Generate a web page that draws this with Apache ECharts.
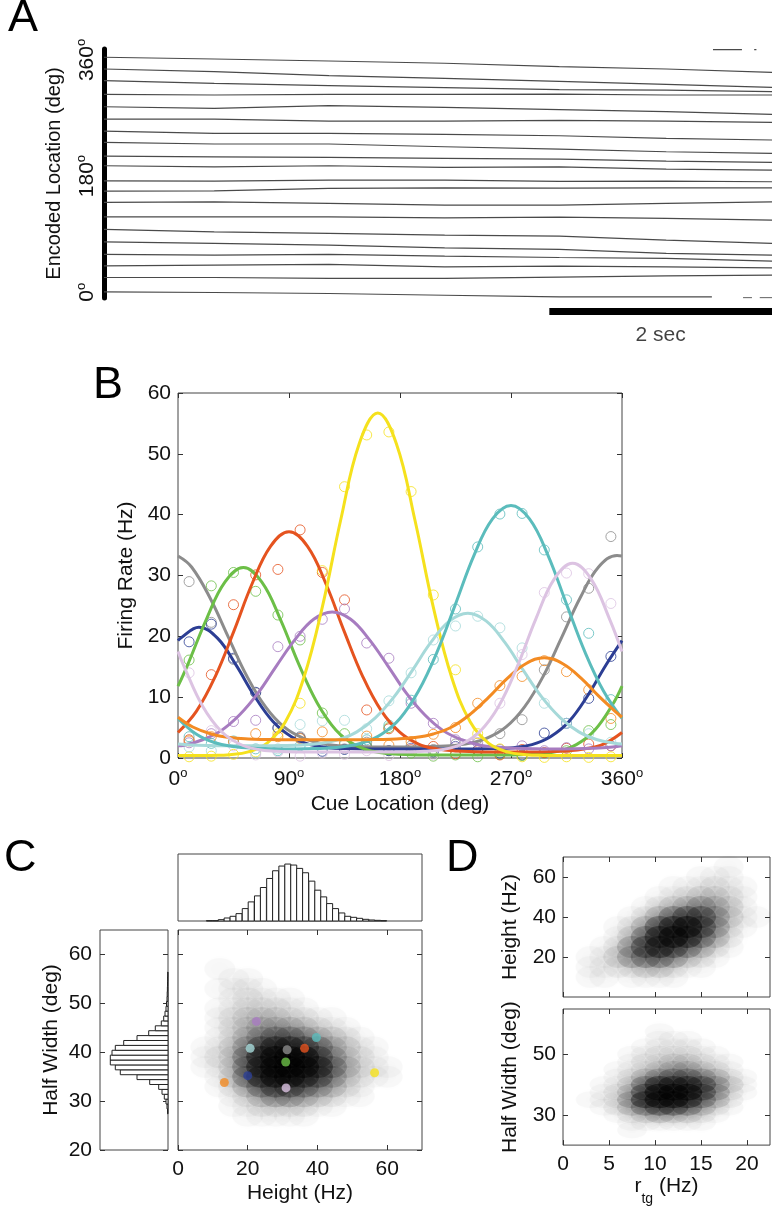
<!DOCTYPE html>
<html><head><meta charset="utf-8">
<script src="https://cdn.jsdelivr.net/npm/echarts@6/dist/echarts.min.js"></script>
<style>html,body{margin:0;padding:0;background:#fff}#c{width:772px;height:1207px}</style>
</head><body><div id="c"></div>
<script>
const FONT = '"Liberation Sans", Arial, Helvetica, sans-serif';

// ---------- Panel A : encoded location traces ----------
const A_TIMES = [0, 0.99, 2.02, 3.06, 4.09, 5.05, 6.0];
const A_TRACES = [
 [364.2, 361.5, 358.4, 354.9, 349.6, 346.0, 340.9],
 [346.0, 341.8, 335.6, 331.6, 326.9, 322.3, 317.6],
 [327.9, 323.8, 320.1, 317.0, 313.9, 313.4, 310.8],
 [306.8, 305.7, 306.8, 306.8, 307.2, 305.7, 305.7],
 [287.5, 285.0, 289.1, 286.6, 282.9, 279.8, 275.7],
 [268.4, 268.4, 265.3, 265.3, 266.4, 265.3, 263.3],
 [249.8, 246.3, 246.3, 244.7, 242.5, 238.5, 235.9],
 [232.3, 229.7, 229.7, 225.5, 221.9, 217.7, 215.2],
 [211.0, 209.9, 209.0, 207.5, 206.4, 203.3, 201.3],
 [196.0, 194.4, 196.0, 193.5, 194.4, 190.9, 189.3],
 [172.7, 172.2, 173.8, 173.8, 171.8, 172.2, 171.2],
 [156.7, 157.2, 160.9, 161.8, 161.4, 161.8, 161.8],
 [139.2, 140.1, 137.6, 135.0, 135.0, 137.6, 140.1],
 [116.8, 116.8, 116.8, 115.3, 116.4, 114.4, 111.7],
 [97.3, 93.6, 91.1, 88.4, 86.9, 80.7, 75.6],
 [78.1, 75.6, 72.9, 68.7, 66.3, 60.1, 57.4],
 [58.5, 57.4, 58.5, 55.9, 53.8, 52.3, 48.1],
 [40.8, 41.9, 43.0, 39.3, 40.3, 39.3, 37.7],
 [22.8, 22.8, 21.3, 21.3, 23.3, 25.3, 26.4]
];
const A_BOTTOM_TRACE = [[0,0.5],[0.99,-0.5],[2.02,-2.0],[3.06,-4.7],[4.09,-7.3],[5.05,-7.3],[5.46,-7.3]];
const A_WRAP_SEGMENTS = [
 [[5.47,376],[5.73,376]],
 [[5.84,376],[5.86,376]],
 [[5.74,-8.6],[5.82,-8.6]],
 [[5.89,-8.6],[6.0,-8.6]]
];
const A_Y_TICKS = [0, 180, 360];
const A_SCALEBAR = [[4, 0.5], [6, 0.5]];
const A_SCALEBAR_LABEL = '2 sec';

// ---------- Panel B : tuning curves ----------
const B_X_TICKS = [0, 90, 180, 270, 360];
const B_CUE_POS = [9,27,45,63,81,99,117,135,153,171,189,207,225,243,261,279,297,315,333,351];

const B_GREY_FIT = [[0,33.2],[11,31.4],[26,26.3],[41,19.8],[56,13.4],[71,8.4],[86,5.1],[101,3.3],[116,2.4],[131,2.0],[146,1.9],[161,1.8],[176,1.8],[191,1.8],[206,1.9],[221,2.0],[236,2.4],[251,3.3],[266,5.1],[281,8.4],[296,13.4],[311,19.8],[326,26.3],[341,31.4],[356,33.3],[360,33.2]];
const B_GREY_PTS = [29.0,22.3,16.2,10.7,5.0,3.5,2.4,1.5,2.6,1.2,2.0,1.4,2.3,3.2,4.0,6.3,14.5,23.2,27.9,36.4];

const B_BLUE_FIT = [[0,19.3],[2,19.7],[17,21.5],[32,19.7],[47,15.3],[62,10.2],[77,6.0],[92,3.5],[107,2.2],[122,1.7],[137,1.55],[152,1.5],[167,1.5],[182,1.5],[197,1.5],[212,1.5],[227,1.5],[242,1.5],[257,1.55],[272,1.7],[287,2.2],[302,3.5],[317,6.0],[332,10.2],[347,15.3],[360,19.3]];
const B_BLUE_PTS = [19.1,22.0,16.4,10.8,4.9,3.3,1.1,1.4,1.8,1.2,1.6,1.0,1.9,1.3,0.8,0.5,4.1,5.7,9.8,16.7];

const B_GREEN_FIT = [[0,11.8],[8,15.4],[23,22.8],[38,28.9],[53,31.3],[68,28.9],[83,22.8],[98,15.4],[113,9.0],[128,4.6],[143,2.2],[158,1.1],[173,0.7],[188,0.55],[203,0.5],[218,0.5],[233,0.5],[248,0.5],[263,0.5],[278,0.55],[293,0.7],[308,1.1],[323,2.2],[338,4.6],[353,9.0],[360,11.8]];
const B_GREEN_PTS = [16.1,28.3,30.5,27.4,23.5,19.4,7.4,4.0,1.9,5.0,0.8,0.3,0.5,0.2,0.6,0.4,0.8,1.2,4.5,5.5];

const B_RED_FIT = [[0,4.2],[15,7.7],[30,13.3],[45,20.7],[60,28.6],[75,34.8],[90,37.2],[105,34.8],[120,28.6],[135,20.7],[150,13.3],[165,7.7],[180,4.2],[195,2.3],[210,1.5],[225,1.15],[240,1.04],[255,1.0],[270,1.0],[285,1.0],[300,1.04],[315,1.15],[330,1.5],[345,2.3],[360,4.2]];
const B_RED_PTS = [3.0,13.7,25.2,30.1,31.0,37.5,30.5,26.0,7.9,4.8,1.4,1.9,0.7,1.2,0.5,1.4,0.9,1.6,2.3,2.0];

const B_PURPLE_FIT = [[0,2.0],[5,2.1],[20,3.0],[35,4.5],[50,7.1],[65,10.7],[80,15.2],[95,19.5],[110,22.8],[125,24.0],[140,22.8],[155,19.5],[170,15.2],[185,10.7],[200,7.1],[215,4.5],[230,3.0],[245,2.1],[260,1.75],[275,1.6],[290,1.53],[305,1.5],[320,1.53],[335,1.6],[350,1.75],[360,2.0]];
const B_PURPLE_PTS = [2.5,4.0,6.0,6.2,18.3,20.0,22.8,24.5,18.9,16.4,9.0,5.7,3.0,2.5,1.4,2.0,1.2,1.7,1.5,2.0];

const B_YELLOW_FIT = [[0,0.4],[12,0.4],[27,0.43],[42,0.55],[57,1.0],[72,2.4],[87,5.9],[102,13.2],[117,24.8],[132,39.2],[147,51.7],[162,56.7],[177,51.7],[192,39.2],[207,24.8],[222,13.2],[237,5.9],[252,2.4],[267,1.0],[282,0.55],[297,0.43],[312,0.4],[327,0.4],[342,0.4],[360,0.4]];
const B_YELLOW_PTS = [0.2,0.3,0.6,1.0,4.0,9.0,30.8,44.6,53.1,53.6,43.8,26.8,14.5,4.0,1.5,0.2,0.1,0.2,0.1,0.2];

const B_LCYAN_FIT = [[0,2.3],[10,2.14],[25,2.04],[40,2.0],[55,2.0],[70,2.0],[85,2.04],[100,2.14],[115,2.4],[130,3.0],[145,4.3],[160,6.6],[175,10.0],[190,14.4],[205,19.0],[220,22.5],[235,23.8],[250,22.5],[265,19.0],[280,14.4],[295,10.0],[310,6.6],[325,4.3],[340,3.0],[355,2.4],[360,2.3]];
const B_LCYAN_PTS = [1.8,1.2,2.5,0.8,1.5,5.5,6.1,6.2,4.8,9.4,14.0,19.4,21.7,23.3,21.4,18.1,9.0,5.7,4.0,2.6];

const B_TEAL_FIT = [[0,6.5],[15,3.9],[30,2.5],[45,1.9],[60,1.62],[75,1.54],[90,1.5],[105,1.54],[120,1.62],[135,1.9],[150,2.5],[165,3.9],[180,6.5],[195,11.0],[210,17.4],[225,25.3],[240,33.3],[255,39.3],[270,41.5],[285,39.3],[300,33.3],[315,25.3],[330,17.4],[345,11.0],[360,6.5]];
const B_TEAL_PTS = [3.5,2.4,2.8,1.5,1.2,2.0,1.6,2.2,3.0,5.4,9.5,16.2,24.5,34.7,40.1,40.2,34.2,26.0,20.5,9.6];

const B_ORANGE_FIT = [[0,6.7],[12,5.1],[27,3.95],[42,3.36],[57,3.12],[72,3.04],[87,3.0],[102,3.0],[117,3.0],[132,3.0],[147,3.0],[162,3.04],[177,3.12],[192,3.36],[207,3.95],[222,5.1],[237,7.2],[252,10.0],[267,13.1],[282,15.5],[297,16.5],[312,15.5],[327,13.1],[342,10.0],[357,7.2],[360,6.7]];
const B_ORANGE_PTS = [2.8,3.5,2.6,4.0,3.5,3.2,4.3,2.5,3.6,2.1,2.7,3.9,5.0,9.0,11.9,13.4,16.0,14.2,11.2,6.5];

const B_LAV_FIT = [[0,17.5],[5,15.0],[20,8.5],[35,4.4],[50,2.3],[65,1.4],[80,1.1],[95,1.0],[110,1.0],[125,1.0],[140,1.0],[155,1.0],[170,1.0],[185,1.0],[200,1.1],[215,1.4],[230,2.3],[245,4.4],[260,8.5],[275,15.0],[290,22.8],[305,29.4],[320,32.0],[335,29.4],[350,22.8],[360,17.5]];
const B_LAV_PTS = [14.0,4.5,2.0,0.5,1.0,0.3,0.8,0.6,1.2,0.4,1.5,0.5,1.8,3.0,9.0,17.0,27.2,30.4,30.3,25.4];

const NEURON_COLORS = ['#8c8c8c','#2c3e94','#6cbf47','#e5531f','#a77cc0','#f5e11d','#a6d9d9','#5bbcbc','#f38b23','#dcc3e2'];
const B_FITS = [B_GREY_FIT,B_BLUE_FIT,B_GREEN_FIT,B_RED_FIT,B_PURPLE_FIT,B_YELLOW_FIT,B_LCYAN_FIT,B_TEAL_FIT,B_ORANGE_FIT,B_LAV_FIT];
const B_PTS = [B_GREY_PTS,B_BLUE_PTS,B_GREEN_PTS,B_RED_PTS,B_PURPLE_PTS,B_YELLOW_PTS,B_LCYAN_PTS,B_TEAL_PTS,B_ORANGE_PTS,B_LAV_PTS];

// ---------- Panel C ----------
const C_HEIGHT_BINS = [9.0,10.7,12.4,14.1,15.8,17.5,19.3,21.0,22.8,24.5,26.3,28.0,29.8,31.5,33.2,34.9,36.6,38.4,40.1,41.8,43.5,45.2,47.0,48.7,50.4,52.1,53.9,55.6,57.3,59.0];
const C_HEIGHT_COUNTS = [1,1,4,9,14,22,37,57,75,100,127,150,164,170,167,157,144,119,92,72,52,37,24,14,11,8,5,3,2,1];
const C_HEIGHT_BIN_WIDTH = 1.72;
const C_HW_BINS = [27.9,28.9,29.9,30.9,31.9,32.9,33.9,34.9,35.9,36.9,37.9,38.9,39.9,40.9,41.9,42.9,43.9,44.9,45.9,46.9,47.9,48.9,49.9,50.9,51.9,52.9,53.9,54.9,55.9];
const C_HW_COUNTS = [0.5,1,2,3.7,6,9.3,18.3,31,47.7,52.7,57.7,57.7,56,52.7,44.3,31,19.3,12.7,6.7,4.3,3,2,1.5,1,0.8,0.6,0.5,0.4,0.3];
const C_HW_BIN_WIDTH = 1;
const C_X_TICKS = [0, 20, 40, 60];
const C_Y_TICKS = [20, 30, 40, 50, 60];

const C_DENS_X = [8,12,16,20,24,28,32,36,40,44,48,52,56,60,64];
const C_DENS_Y = [59,57,55,53,51,49,47,45,43,41,39,37,35,33,31,29,27,25];
const C_DENSITY = [
 [0,0,0,0,0,0,0,0,0,0,0,0,0,0,0],
 [0,1,0,0,0,0,0,0,0,0,0,0,0,0,0],
 [0,0,1,1,0,0,0,0,0,0,0,0,0,0,0],
 [0,1,1,1,1,0,0,0,0,0,0,0,0,0,0],
 [0,0,1,2,1,1,1,0,0,0,0,0,0,0,0],
 [0,1,1,2,2,2,1,1,0,0,0,0,0,0,0],
 [0,1,2,3,3,3,2,2,1,1,0,0,0,0,0],
 [0,1,2,3,4,4,4,3,2,1,1,0,0,0,0],
 [0,1,2,4,5,6,6,5,4,3,2,1,0,0,0],
 [1,1,3,5,7,8,8,7,6,4,3,1,1,0,0],
 [1,2,3,6,8,9,9,9,7,5,3,2,1,0,0],
 [1,1,3,6,8,9,9,9,8,6,4,2,1,1,0],
 [0,1,3,6,8,9,9,8,7,5,3,2,1,1,0],
 [0,1,2,4,6,7,7,6,5,4,2,1,0,0,0],
 [0,0,1,2,4,5,5,4,3,2,1,1,0,0,0],
 [0,0,1,1,2,2,2,2,1,1,0,0,0,0,0],
 [0,0,0,1,1,1,1,1,0,0,0,0,0,0,0],
 [0,0,0,0,0,0,0,0,0,0,0,0,0,0,0]
];
const C_NEURON_HEIGHT = [31.3,20.0,30.9,36.3,22.5,56.4,20.7,39.7,13.3,31.0];
const C_NEURON_HW = [40.5,35.2,38.0,40.8,46.3,35.8,40.8,43.0,33.8,32.7];

// ---------- Panel D ----------
const D_RTG = [3,4.5,6,7.5,9,10.5,12,13.5,15,16.5,18,19.5,21];
const D_HEIGHT_ROWS = [65,60,55,50,45,40,35,30,25,20,15,10];
const D_HEIGHT_DENSITY = [
 [0,0,0,0,0,0,0,0,0,0,1,0,0],
 [0,0,0,0,0,0,0,0,1,1,1,0,0],
 [0,0,0,0,0,0,1,1,1,2,1,1,0],
 [0,0,0,0,0,1,1,2,3,3,2,1,0],
 [0,0,0,0,1,2,3,4,5,4,3,1,0],
 [0,0,0,1,2,4,6,7,7,5,3,1,1],
 [0,0,1,2,4,7,8,9,7,5,2,1,0],
 [0,0,1,3,6,8,9,8,6,4,2,0,0],
 [0,1,2,5,7,8,7,6,4,2,1,0,0],
 [1,1,3,5,6,6,5,3,2,1,0,0,0],
 [1,1,2,2,3,3,2,1,1,0,0,0,0],
 [1,1,0,1,1,1,1,0,0,0,0,0,0]
];
const D_HW_ROWS = [60,57.5,55,52.5,50,47.5,45,42.5,40,37.5,35,32.5,30,27.5,25];
const D_HW_DENSITY = [
 [0,0,0,0,0,0,0,0,0,0,0,0,0],
 [0,0,0,0,0,1,0,0,0,0,0,0,0],
 [0,0,0,0,0,1,1,1,0,0,0,0,0],
 [0,0,0,0,1,1,1,1,1,0,0,0,0],
 [0,0,0,1,1,2,2,2,1,1,0,0,0],
 [0,0,0,1,2,2,3,3,2,1,1,0,0],
 [0,0,1,1,2,3,4,4,3,2,1,0,0],
 [0,0,1,2,4,5,6,6,5,4,2,1,0],
 [0,1,1,3,6,8,8,8,7,5,3,1,0],
 [0,1,2,4,7,9,9,9,7,5,2,1,0],
 [1,1,2,5,8,9,9,8,6,4,2,0,0],
 [0,1,2,4,6,7,7,6,4,2,1,0,0],
 [0,0,1,2,3,4,3,3,2,1,0,0,0],
 [0,0,0,1,1,1,1,1,1,0,0,0,0],
 [0,0,0,1,0,0,0,0,0,0,0,0,0]
];
const D_X_TICKS = [0, 5, 10, 15, 20];

// density level -> disc opacity
const DENSITY_LEVELS = [1, 2, 3, 4, 5, 6, 7, 8, 9];
const DENSITY_OPACITY = [0.022, 0.04, 0.065, 0.1, 0.145, 0.2, 0.27, 0.36, 0.45];

// ================= build =================
const TXT = {fontFamily: FONT, fontSize: 21, color: '#111'};
const degRich = {
  n: {fontFamily: FONT, fontSize: 21, color: '#111', lineHeight: 24},
  s: {fontFamily: FONT, fontSize: 13, color: '#111', verticalAlign: 'top', lineHeight: 24}
};
const degFmt = v => '{n|' + v + '}{s|o}';
const TICK = {show: true, inside: true, length: 5, lineStyle: {color: '#333', width: 1}};
const BOX = {show: true, borderColor: '#444', borderWidth: 1, backgroundColor: 'transparent'};

function ax(grid, o) {
  return Object.assign({type: 'value', gridIndex: grid, axisLine: {show: false, onZero: false},
    axisTick: {show: false}, axisLabel: {show: false}, splitLine: {show: false}}, o);
}
function densityData(xs, ys, rows) {
  const out = [];
  rows.forEach((r, i) => r.forEach((d, j) => { if (d > 0) out.push([xs[j], ys[i], d]); }));
  return out;
}
const tk = vals => Object.assign({}, TICK, {customValues: vals});

const grid = [
  {left: 104, top: 49, width: 668, height: 249},                 // 0 A
  {left: 104, top: 305, width: 668, height: 13},                 // 1 A scale bar
  Object.assign({left: 178, top: 393, width: 444, height: 365}, BOX), // 2 B
  Object.assign({left: 178, top: 854, width: 244, height: 67}, BOX),  // 3 C top hist
  Object.assign({left: 100, top: 930, width: 68, height: 220}, BOX),  // 4 C left hist
  Object.assign({left: 178, top: 930, width: 244, height: 220}, BOX), // 5 C scatter
  Object.assign({left: 563, top: 857, width: 207, height: 140}, BOX), // 6 D top
  Object.assign({left: 563, top: 1009, width: 207, height: 141}, BOX) // 7 D bottom
];

const xAxis = [
  ax(0, {min: 0, max: 6}),                                             // 0
  ax(1, {min: 0, max: 6}),                                             // 1
  ax(2, {min: 0, max: 360, interval: 90, axisTick: tk(B_X_TICKS),
    axisLabel: {show: true, margin: 9, customValues: B_X_TICKS, formatter: degFmt, rich: degRich},
    name: 'Cue Location (deg)', nameLocation: 'middle', nameGap: 36, nameTextStyle: TXT}), // 2
  ax(2, {min: 0, max: 360, position: 'top', axisTick: tk(B_X_TICKS)}),                     // 3
  ax(3, {min: 0, max: 70}),                                            // 4
  ax(4, {min: 0, max: 68, inverse: true}),                             // 5
  ax(5, {min: 0, max: 70, axisTick: tk(C_X_TICKS),
    axisLabel: Object.assign({show: true, margin: 9, customValues: C_X_TICKS}, TXT),
    name: 'Height (Hz)', nameLocation: 'middle', nameGap: 33, nameTextStyle: TXT}),         // 6
  ax(5, {min: 0, max: 70, position: 'top', axisTick: tk(C_X_TICKS)}),                      // 7
  ax(6, {min: 0, max: 22.5, axisTick: tk(D_X_TICKS)}),                 // 8
  ax(7, {min: 0, max: 22.5, axisTick: tk(D_X_TICKS),
    axisLabel: Object.assign({show: true, margin: 9, customValues: D_X_TICKS}, TXT),
    name: '{r|r}{s|tg}{r| (Hz)}', nameLocation: 'middle', nameGap: 30,
    nameTextStyle: Object.assign({}, TXT, {rich: {
      r: {fontFamily: FONT, fontSize: 21, color: '#111', lineHeight: 30, verticalAlign: 'top'},
      s: {fontFamily: FONT, fontSize: 14, color: '#111', lineHeight: 30, verticalAlign: 'bottom'}}})}), // 9
  ax(7, {min: 0, max: 22.5, position: 'top', axisTick: tk(D_X_TICKS)}),   // 10
  ax(6, {min: 0, max: 22.5, position: 'top', axisTick: tk(D_X_TICKS)})    // 11
];

const yAxis = [
  ax(0, {min: -9, max: 377, axisLine: {show: true, onZero: false, lineStyle: {color: '#000', width: 5}},
    axisLabel: {show: true, customValues: A_Y_TICKS, rotate: 90, margin: 5, formatter: degFmt, rich: degRich},
    name: 'Encoded Location (deg)', nameLocation: 'middle', nameRotate: 90, nameGap: 40,
    nameTextStyle: Object.assign({}, TXT, {fontSize: 20})}),                                  // 0
  ax(1, {min: 0, max: 1}),                                                                    // 1
  ax(2, {min: 0, max: 60, interval: 10, axisTick: TICK,
    axisLabel: Object.assign({show: true, margin: 7}, TXT),
    name: 'Firing Rate (Hz)', nameLocation: 'middle', nameRotate: 90, nameGap: 40, nameTextStyle: TXT}), // 2
  ax(2, {min: 0, max: 60, interval: 10, position: 'right', axisTick: TICK}),                 // 3
  ax(3, {min: 0, max: 200}),                                                                  // 4
  ax(4, {min: 20, max: 65, axisTick: tk(C_Y_TICKS),
    axisLabel: Object.assign({show: true, margin: 8, customValues: C_Y_TICKS}, TXT),
    name: 'Half Width (deg)', nameLocation: 'middle', nameRotate: 90, nameGap: 38, nameTextStyle: TXT}), // 5
  ax(4, {min: 20, max: 65, position: 'right', axisTick: tk(C_Y_TICKS)}),                     // 6
  ax(5, {min: 20, max: 65, axisTick: tk(C_Y_TICKS)}),                                          // 7
  ax(5, {min: 20, max: 65, position: 'right', axisTick: tk(C_Y_TICKS)}),                     // 8
  ax(6, {min: 0, max: 70, axisTick: tk([20, 40, 60]),
    axisLabel: Object.assign({show: true, margin: 7, customValues: [20, 40, 60]}, TXT),
    name: 'Height (Hz)', nameLocation: 'middle', nameRotate: 90, nameGap: 42, nameTextStyle: TXT}),  // 9
  ax(6, {min: 0, max: 70, position: 'right', axisTick: tk([20, 40, 60])}),                  // 10
  ax(7, {min: 20, max: 65, axisTick: tk([30, 50]),
    axisLabel: Object.assign({show: true, margin: 7, customValues: [30, 50]}, TXT),
    name: 'Half Width (deg)', nameLocation: 'middle', nameRotate: 90, nameGap: 42, nameTextStyle: TXT}), // 11
  ax(7, {min: 20, max: 65, position: 'right', axisTick: tk([30, 50])})                      // 12
];

const series = [];
// A traces
const TRACE_STYLE = {color: '#4a4a4a', width: 1.2};
A_TRACES.forEach(tr => series.push({type: 'line', xAxisIndex: 0, yAxisIndex: 0, showSymbol: false, silent: true,
  data: A_TIMES.map((t, i) => [t, tr[i]]), lineStyle: TRACE_STYLE}));
series.push({type: 'line', xAxisIndex: 0, yAxisIndex: 0, showSymbol: false, data: A_BOTTOM_TRACE, lineStyle: TRACE_STYLE});
A_WRAP_SEGMENTS.forEach(seg => series.push({type: 'line', xAxisIndex: 0, yAxisIndex: 0, showSymbol: false,
  data: seg, lineStyle: TRACE_STYLE}));
// scale bar
series.push({type: 'line', xAxisIndex: 1, yAxisIndex: 1, showSymbol: false, data: A_SCALEBAR,
  lineStyle: {color: '#000', width: 7, cap: 'butt'}});
series.push({type: 'scatter', xAxisIndex: 1, yAxisIndex: 1, symbolSize: 0,
  data: [[(A_SCALEBAR[0][0] + A_SCALEBAR[1][0]) / 2, 0.5]],
  label: Object.assign({show: true, position: 'bottom', distance: 13, formatter: A_SCALEBAR_LABEL}, TXT)});

// B circles then fits
B_PTS.forEach((pts, k) => series.push({type: 'scatter', xAxisIndex: 2, yAxisIndex: 2, symbol: 'circle', symbolSize: 10,
  data: B_CUE_POS.map((x, i) => [x, pts[i]]),
  itemStyle: {color: 'rgba(255,255,255,0)', borderColor: NEURON_COLORS[k], borderWidth: 1}, z: 2}));
B_FITS.forEach((fit, k) => series.push({type: 'line', xAxisIndex: 2, yAxisIndex: 2, showSymbol: false, smooth: 0.4,
  data: fit, lineStyle: {color: NEURON_COLORS[k], width: 3}, z: 3 + k}));

// C top histogram
series.push({type: 'custom', xAxisIndex: 4, yAxisIndex: 4,
  data: C_HEIGHT_BINS.map((b, i) => [b, C_HEIGHT_COUNTS[i]]),
  renderItem: (params, api) => {
    const c = api.value(0), v = api.value(1);
    const p1 = api.coord([c - C_HEIGHT_BIN_WIDTH / 2, v]), p2 = api.coord([c + C_HEIGHT_BIN_WIDTH / 2, 0]);
    return {type: 'rect', shape: {x: p1[0], y: p1[1], width: p2[0] - p1[0], height: p2[1] - p1[1]},
      style: {fill: '#fff', stroke: '#222', lineWidth: 1}};
  }});
// C left histogram (horizontal)
series.push({type: 'custom', xAxisIndex: 5, yAxisIndex: 5,
  data: C_HW_BINS.map((b, i) => [C_HW_COUNTS[i], b]),
  renderItem: (params, api) => {
    const v = api.value(0), c = api.value(1);
    const p1 = api.coord([0, c + C_HW_BIN_WIDTH / 2]), p2 = api.coord([v, c - C_HW_BIN_WIDTH / 2]);
    return {type: 'rect', shape: {x: Math.min(p1[0], p2[0]), y: p1[1], width: Math.abs(p2[0] - p1[0]), height: p2[1] - p1[1]},
      style: {fill: '#fff', stroke: '#222', lineWidth: 1}};
  }});
// density clouds (soft overlapping discs)
const densStyle = {color: '#000', shadowBlur: 14, shadowColor: 'rgba(0,0,0,0.6)'};
const idxC = series.length;
series.push({type: 'scatter', xAxisIndex: 6, yAxisIndex: 7, symbol: 'circle', symbolSize: [31, 22],
  data: densityData(C_DENS_X, C_DENS_Y, C_DENSITY), itemStyle: densStyle, silent: true});
series.push({type: 'scatter', xAxisIndex: 6, yAxisIndex: 7, symbol: 'circle', symbolSize: 9, z: 5,
  data: C_NEURON_HEIGHT.map((h, i) => ({value: [h, C_NEURON_HW[i]], itemStyle: {color: NEURON_COLORS[i]}}))});
const idxD1 = series.length;
series.push({type: 'scatter', xAxisIndex: 8, yAxisIndex: 9, symbol: 'circle', symbolSize: [30, 22],
  data: densityData(D_RTG, D_HEIGHT_ROWS, D_HEIGHT_DENSITY), itemStyle: densStyle, silent: true});
const idxD2 = series.length;
series.push({type: 'scatter', xAxisIndex: 9, yAxisIndex: 11, symbol: 'circle', symbolSize: [30, 17],
  data: densityData(D_RTG, D_HW_ROWS, D_HW_DENSITY), itemStyle: densStyle, silent: true});

const densityPieces = DENSITY_LEVELS.map((v, i) => ({value: v, opacity: DENSITY_OPACITY[i]}));
const visualMap = [idxC, idxD1, idxD2].map(i => ({type: 'piecewise', show: false, seriesIndex: i, dimension: 2,
  pieces: densityPieces}));

const letter = (t, x, y) => ({type: 'text', left: x, top: y, style: {text: t, fontFamily: FONT, fontSize: 45, fill: '#000'}});

const chart = echarts.init(document.getElementById('c'), null, {renderer: 'canvas'});
chart.setOption({
  animation: false,
  backgroundColor: '#fff',
  grid, xAxis, yAxis, series, visualMap,
  graphic: [letter('A', 8, -4), letter('B', 93, 363), letter('C', 4, 836), letter('D', 446, 836)]
});
</script></body></html>
